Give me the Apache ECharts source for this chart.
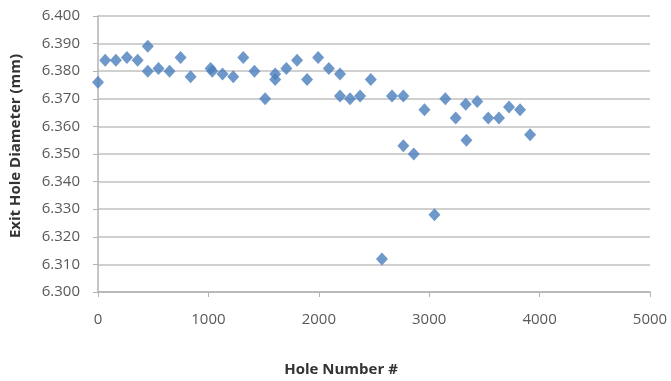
<!DOCTYPE html>
<html>
<head>
<meta charset="utf-8">
<script src="https://cdn.jsdelivr.net/npm/echarts@6/dist/echarts.min.js"></script>
<style>html,body{margin:0;padding:0;background:#fff;}#c{width:671px;height:381px;}</style>
</head>
<body>
<div id="c"></div>
<script>
var holeNumbers = [0, 65, 162, 262, 359, 451, 451, 548, 648, 748, 839, 1020, 1035, 1128, 1225, 1316, 1417, 1514, 1605, 1605, 1706, 1803, 1894, 1994, 2091, 2192, 2192, 2283, 2374, 2471, 2572, 2663, 2766, 2766, 2860, 2957, 3048, 3146, 3240, 3331, 3337, 3435, 3535, 3632, 3723, 3823, 3914];
var diameters = [6.376, 6.384, 6.384, 6.385, 6.384, 6.389, 6.380, 6.381, 6.380, 6.385, 6.378, 6.381, 6.380, 6.379, 6.378, 6.385, 6.380, 6.370, 6.379, 6.377, 6.381, 6.384, 6.377, 6.385, 6.381, 6.379, 6.371, 6.370, 6.371, 6.377, 6.312, 6.371, 6.371, 6.353, 6.350, 6.366, 6.328, 6.370, 6.363, 6.368, 6.355, 6.369, 6.363, 6.363, 6.367, 6.366, 6.357];
var xTicks = [0, 1000, 2000, 3000, 4000, 5000];
var yTicks = [6.300, 6.310, 6.320, 6.330, 6.340, 6.350, 6.360, 6.370, 6.380, 6.390, 6.400];

var points = holeNumbers.map(function (h, i) { return [h, diameters[i]]; });
var chart = echarts.init(document.getElementById('c'), null, {renderer: 'canvas'});
chart.setOption({
  animation: false,
  backgroundColor: '#ffffff',
  grid: {left: 98, right: 21, top: 16, bottom: 89, containLabel: false, outerBoundsMode: 'none'},
  xAxis: {
    type: 'value', min: xTicks[0], max: xTicks[xTicks.length - 1], interval: 1000,
    name: 'Hole Number #', nameLocation: 'middle', nameGap: 70,
    nameTextStyle: {fontFamily: 'Open Sans', fontWeight: 'bold', fontSize: 15, color: '#333333',
      padding: [0, 66, 0, 0]},
    axisLine: {show: true, onZero: false, lineStyle: {color: '#b3b3b3', width: 1.5}},
    axisTick: {show: true, inside: false, length: 5, lineStyle: {color: '#b3b3b3'}},
    axisLabel: {fontFamily: 'Open Sans', fontSize: 15, color: '#595959', margin: 20,
      formatter: function (v) { return String(v); }},
    splitLine: {show: false}
  },
  yAxis: {
    type: 'value', min: yTicks[0], max: yTicks[yTicks.length - 1], interval: 0.01,
    name: 'Exit Hole Diameter (mm)', nameLocation: 'middle', nameGap: 75,
    nameTextStyle: {fontFamily: 'Open Sans', fontWeight: 'bold', fontSize: 15, color: '#333333',
      padding: [0, 0, 0, 16]},
    axisLine: {show: true, onZero: false, lineStyle: {color: '#b3b3b3', width: 1.5}},
    axisTick: {show: true, inside: false, length: 5, lineStyle: {color: '#b3b3b3'}},
    axisLabel: {fontFamily: 'Open Sans', fontSize: 15, color: '#595959', margin: 18,
      formatter: function (v) { return v.toFixed(3); }},
    splitLine: {show: true, lineStyle: {color: '#c0c0c0', width: 1.5}}
  },
  series: [{
    type: 'scatter',
    data: points,
    symbol: 'diamond',
    symbolSize: [12, 13],
    itemStyle: {color: '#4a7ebb'}
  }]
});
</script>
</body>
</html>
